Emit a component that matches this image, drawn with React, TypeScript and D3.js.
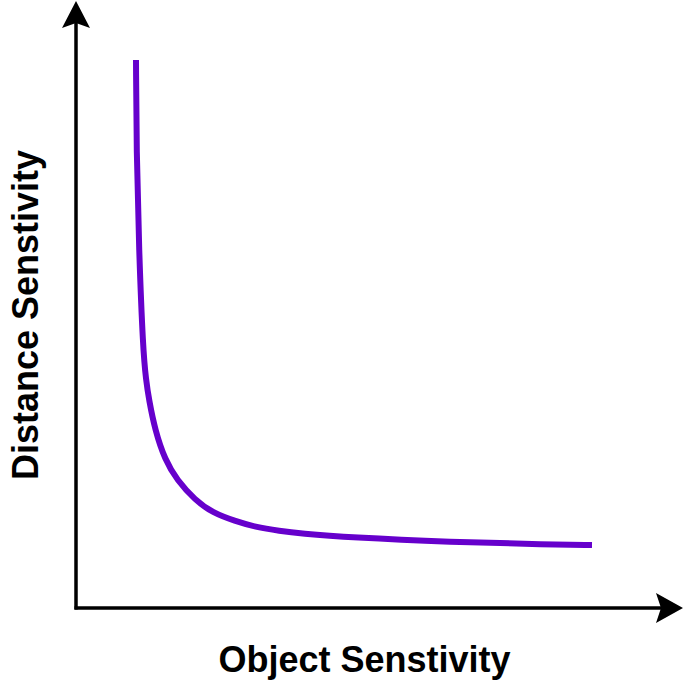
import React from "react";
import * as d3 from "d3";

const W = 685;
const H = 687;

// Curve points (abstract units 0..100)
const curveX = [10.0, 10.08, 10.5, 11.17, 11.67, 12.17, 13.17, 14.83, 16.83, 19.83, 22.83, 26.5, 29.83, 34.0, 37.33, 45.67, 62.33, 79.0, 86.0];
const curveY = [91.33, 76.33, 59.67, 43.0, 38.0, 34.67, 29.67, 24.67, 21.33, 18.0, 15.83, 14.5, 13.5, 12.83, 12.42, 11.75, 11.0, 10.58, 10.5];

const xLabel = "Object Senstivity";
const yLabel = "Distance Senstivity";

export default function App() {
  const x = d3.scaleLinear().domain([0, 100]).range([76, 676]);
  const y = d3.scaleLinear().domain([0, 100]).range([608, 8]);
  const pts: [number, number][] = curveX.map((v, i) => [v, curveY[i]]);
  const line = d3
    .line<[number, number]>()
    .x((d) => x(d[0]))
    .y((d) => y(d[1]))
    .curve(d3.curveBasis);

  const ox = 76;
  const oy = 608;
  const yTip = 1;
  const yArrow = `M${ox},${yTip} L${ox + 14},${yTip + 27} L${ox},${yTip + 22} L${ox - 14},${yTip + 27} Z`;
  const xTip = 683;
  const xArrow = `M${xTip},${oy} L${xTip - 27},${oy - 15} L${xTip - 22},${oy} L${xTip - 27},${oy + 15} Z`;

  return (
    <svg width={W} height={H} style={{ position: "absolute", left: 0, top: 0, background: "#fff" }}>
      <line x1={ox} y1={oy + 1.5} x2={ox} y2={yTip + 20} stroke="#000" strokeWidth={3.5} />
      <path d={yArrow} fill="#000" />
      <line x1={ox - 1.5} y1={oy} x2={xTip - 20} y2={oy} stroke="#000" strokeWidth={3.5} />
      <path d={xArrow} fill="#000" />
      <path d={line(pts) || ""} fill="none" stroke="#6600CC" strokeWidth={6} />
      <text
        x={364.5}
        y={672}
        textAnchor="middle"
        fontFamily="Liberation Sans, Arial, sans-serif"
        fontWeight="bold"
        fontSize={36}
        fill="#000"
      >
        {xLabel}
      </text>
      <text
        transform={`translate(38,315) rotate(-90)`}
        textAnchor="middle"
        fontFamily="Liberation Sans, Arial, sans-serif"
        fontWeight="bold"
        fontSize={36}
        fill="#000"
      >
        {yLabel}
      </text>
    </svg>
  );
}
